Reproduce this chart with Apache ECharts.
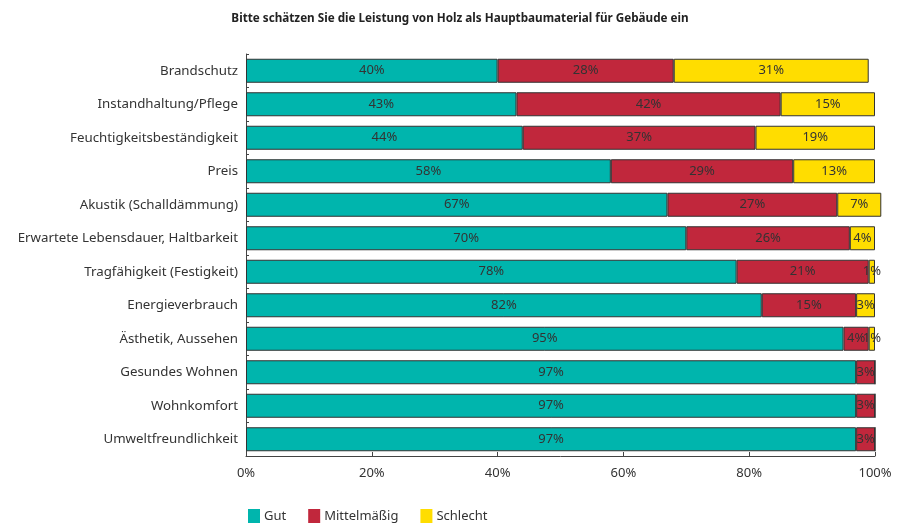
<!DOCTYPE html>
<html>
<head>
<meta charset="utf-8">
<script src="https://cdn.jsdelivr.net/npm/echarts@6/dist/echarts.min.js"></script>
<style>
  html, body { margin: 0; padding: 0; background: #fff; }
  #chart { width: 901px; height: 524px; }
</style>
</head>
<body>
<div id="chart"></div>
<script>
// Kategorien von oben nach unten
var categories = ['Brandschutz', 'Instandhaltung/Pflege', 'Feuchtigkeitsbeständigkeit', 'Preis',
    'Akustik (Schalldämmung)', 'Erwartete Lebensdauer, Haltbarkeit', 'Tragfähigkeit (Festigkeit)',
    'Energieverbrauch', 'Ästhetik, Aussehen', 'Gesundes Wohnen', 'Wohnkomfort', 'Umweltfreundlichkeit'];
var seriesNames = ['Gut', 'Mittelmäßig', 'Schlecht'];
var gut = [40, 43, 44, 58, 67, 70, 78, 82, 95, 97, 97, 97];
var mittel = [28, 42, 37, 29, 27, 26, 21, 15, 4, 3, 3, 3];
var schlecht = [31, 15, 19, 13, 7, 4, 1, 3, 1, 0, 0, 0];
var xTicks = [0, 20, 40, 60, 80, 100];

var colors = ['#00B5AD', '#C1273C', '#FFDD00'];
var font = 'Noto Sans';

function makeSeries(name, values, color) {
    return {
        name: name,
        type: 'bar',
        stack: 'total',
        barWidth: 24,
        clip: false,
        data: values,
        itemStyle: {
            color: color,
            borderColor: '#333',
            borderWidth: 1
        },
        label: {
            show: true,
            position: 'inside',
            color: '#333',
            fontSize: 13,
            fontFamily: font,
            formatter: function(p) {
                return p.value > 0 ? p.value + '%' : '';
            }
        }
    };
}

var chart = echarts.init(document.getElementById('chart'));
var option = {
    animation: false,
    color: colors,
    title: {
        text: 'Bitte schätzen Sie die Leistung von Holz als Hauptbaumaterial für Gebäude ein',
        left: 455,
        textAlign: 'center',
        top: 8,
        textStyle: {
            fontFamily: font,
            fontWeight: 'bold',
            fontSize: 11.7,
            color: '#222'
        }
    },
    legend: {
        data: seriesNames,
        left: 248,
        top: 509,
        padding: 0,
        icon: 'rect',
        itemWidth: 12,
        itemHeight: 14,
        itemGap: 22,
        itemStyle: { borderWidth: 0 },
        textStyle: {
            fontFamily: font,
            fontSize: 13,
            color: '#333',
            padding: [0, 0, 0, -1]
        }
    },
    grid: {
        left: 246,
        right: 26,
        top: 54,
        bottom: 68,
        containLabel: false
    },
    xAxis: {
        type: 'value',
        min: 0,
        max: 100,
        interval: 20,
        splitLine: { show: false },
        axisLine: { show: true, lineStyle: { color: '#444', width: 1 } },
        axisTick: { show: true, inside: true, length: 4, lineStyle: { color: '#444' } },
        axisLabel: {
            margin: 11,
            color: '#333',
            fontSize: 13,
            fontFamily: font,
            formatter: function(v) {
                return xTicks.indexOf(v) >= 0 ? v + '%' : '';
            }
        }
    },
    yAxis: {
        type: 'category',
        inverse: true,
        data: categories,
        axisLine: { show: true, lineStyle: { color: '#444', width: 1 } },
        axisTick: { show: true, inside: true, length: 3, lineStyle: { color: '#444' } },
        axisLabel: {
            margin: 8,
            color: '#333',
            fontSize: 13.3,
            fontFamily: font
        }
    },
    series: [
        makeSeries(seriesNames[0], gut, colors[0]),
        makeSeries(seriesNames[1], mittel, colors[1]),
        makeSeries(seriesNames[2], schlecht, colors[2])
    ]
};
chart.setOption(option);
</script>
</body>
</html>
